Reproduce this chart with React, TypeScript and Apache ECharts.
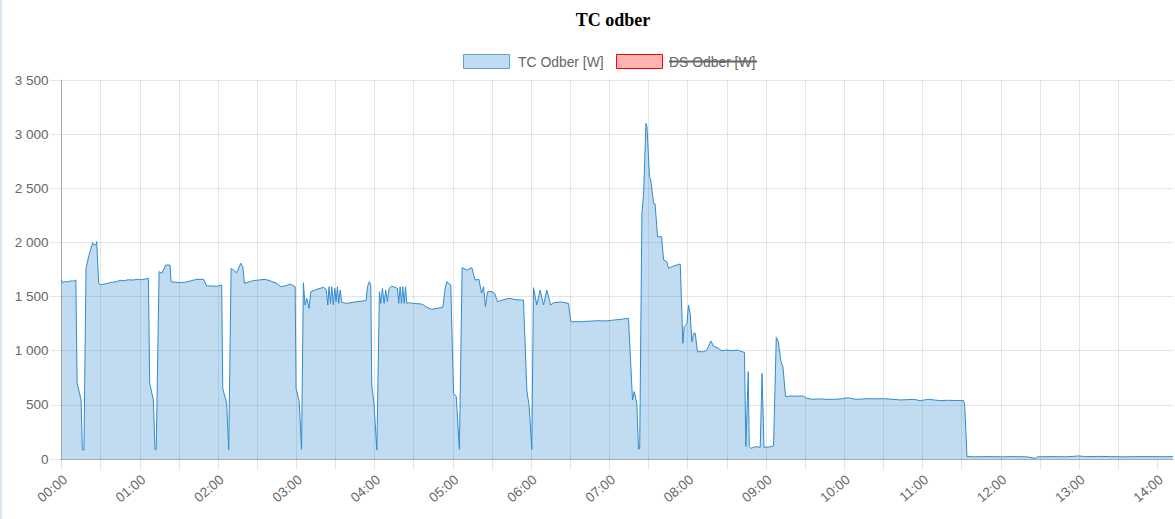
import React, { useEffect, useRef } from "react";
import * as echarts from "echarts";

// time of each reading, in minutes after 00:00
const minutes: number[] = [
  0, 1, 3, 5, 7, 9, 11, 12, 15, 16, 17.2,
  18.8, 21, 23.9, 25, 26.5, 27, 28.5,
  30, 33, 36, 39, 42, 45, 48, 51, 55, 58, 61, 64, 66.6,
  67.6, 70.4, 71.7, 72.6,
  74.8, 77, 79.8, 83.2, 84,
  90.9, 95, 99, 103.6, 108.8, 111.3, 116, 119, 122.8,
  123.6, 126.6, 128.2,
  130, 134.3, 137.4, 139, 140.2, 147, 156, 160, 165, 168, 172, 175.2, 179.1,
  179.8, 182.2, 184,
  185.4, 186.7, 188, 189.8, 191.1, 195.7, 200.8, 202.9,
  204.1, 205.1, 206.2, 207.2, 208.4, 209.5, 210.5, 211.5, 212.5, 213.6,
  214.8, 218.7, 226.4, 233.5, 234.5, 236, 237.1,
  237.8, 239.5, 241.7,
  243.7, 244.7, 246, 247.3, 248.5, 249.8, 251.1, 253.1, 255.7, 257.5,
  258.5, 259.6, 260.6, 261.6, 262.7, 263.7, 264.7,
  266, 269.8, 276.2, 280.1, 283.9, 287.7, 292.3, 294.1, 295.3, 298.4,
  300.5, 302.6, 305,
  307.1, 311, 314.5, 317, 320, 322, 323.5, 325, 326.5, 330, 332, 334.2, 338, 343, 349, 354.1,
  356.7, 358.5, 360.5,
  361.8, 364.3, 366.9, 369.5, 372, 375, 377.1, 383, 388.6, 390.4, 398, 404, 410.4, 418, 423, 429, 434.6,
  437.7, 439, 441, 442.3, 443.2,
  444.9, 446.2, 448, 448.8, 450.7, 451.7, 453.8, 455, 456.9, 460, 461.5, 464, 465.3, 469, 474.3,
  476.3, 477.3, 479.4, 480.6, 481.9, 483.2, 484.5, 485.8, 487.5, 492.1, 494.6, 497.8, 499.8, 503.6,
  506, 510, 514, 518, 521.6, 523.5,
  524.6, 526.4, 527.2, 528.5, 531.8, 535.6, 537, 538.5, 542, 545.8,
  547.9, 549.4, 551.5, 553, 555, 558.6, 563, 568.8, 570, 575.2, 581, 586, 591.8, 597, 603.3,
  606, 609.8, 617.4, 623, 630.2, 636, 643, 648, 653.2, 658.3, 664.7, 669, 673.6, 680, 686, 691.5,
  692.3, 694.1,
  700, 710, 720, 730, 740, 746.5, 748, 760, 770, 779.7, 785, 795, 805, 815, 825, 835, 845, 852,
];

// TC Odber [W]
const watts: number[] = [
  1653, 1628, 1640, 1635, 1645, 1642, 1653, 699, 545, 83, 83,
  1760, 1880, 1998, 1976, 1980, 2007, 1622,
  1610, 1615, 1625, 1632, 1637, 1650, 1645, 1655, 1653, 1660, 1655, 1662, 1668,
  699, 545, 83, 89,
  1730, 1714, 1791, 1791, 1637,
  1628, 1633, 1645, 1659, 1659, 1598, 1598, 1595, 1607,
  653, 514, 83,
  1760, 1720, 1807, 1776, 1622, 1647, 1659, 1645, 1622, 1591, 1600, 1616, 1591,
  653, 529, 89,
  1628, 1422, 1484, 1391, 1545, 1567, 1585, 1567,
  1422, 1591, 1437, 1591, 1422, 1576, 1453, 1591, 1437, 1560,
  1447, 1437, 1453, 1462, 1591, 1637, 1607,
  683, 514, 83,
  1545, 1437, 1576, 1437, 1561, 1453, 1576, 1597, 1585, 1576,
  1437, 1591, 1437, 1591, 1437, 1591, 1437,
  1443, 1437, 1431, 1400, 1382, 1391, 1400, 1576, 1637, 1607,
  606, 576, 89,
  1767, 1745, 1767, 1653, 1659, 1530, 1591, 1407, 1545, 1545, 1530, 1453, 1468, 1484, 1470, 1468,
  637, 483, 89,
  1582, 1422, 1560, 1422, 1560, 1422, 1443, 1450, 1437, 1268, 1268, 1272, 1277, 1275, 1283, 1290, 1299,
  545, 622, 514, 89, 98,
  2268, 2453, 3099, 3069, 2607, 2576, 2361, 2355, 2053, 2053, 1838, 1822, 1761, 1782, 1801,
  1068, 1222, 1253, 1422, 1345, 1083, 1160, 1160, 991, 991, 1006, 1090, 1043, 1022,
  1000, 1006, 1000, 1006, 991, 985,
  114, 806, 114, 98, 114, 108, 791, 108, 110, 120,
  1123, 1083, 899, 853, 576, 582, 580, 582, 566, 551, 555, 551, 551, 555, 566,
  557, 551, 557, 555, 557, 552, 545, 548, 551, 539, 551, 545, 539, 542, 540, 539,
  499, 22,
  20, 22, 20, 22, 20, 5, 20, 22, 20, 28, 22, 24, 22, 20, 22, 22, 21, 22,
];

const xTickMinutes: number[] = Array.from({ length: 29 }, (_, i) => i * 30);
const xLabelMinutes: number[] = Array.from({ length: 15 }, (_, i) => i * 60);

const TITLE = "TC odber";
const LEGEND_TC = "TC Odber [W]";
const LEGEND_DS = "DS Odber [W]";

const LINE = "#318bcc";
const SANS = '"Liberation Sans", Arial, Helvetica, sans-serif';

function hhmm(v: number): string {
  const h = Math.floor(v / 60);
  const m = Math.round(v % 60);
  return String(h).padStart(2, "0") + ":" + String(m).padStart(2, "0");
}

function thousands(v: number): string {
  return String(v).replace(/\B(?=(\d{3})+(?!\d))/g, " ");
}

export default function App() {
  const ref = useRef<HTMLDivElement>(null);

  useEffect(() => {
    if (!ref.current) return;
    const chart = echarts.init(ref.current, undefined, { renderer: "svg" });
    const data = minutes.map((m, i) => [m, watts[i]]);
    chart.setOption({
      animation: false,
      backgroundColor: "#ffffff",
      grid: { left: 61.5, right: 2, top: 80, bottom: 60, containLabel: false },
      graphic: [
        { type: "rect", shape: { x: 0, y: 0, width: 2, height: 519 }, style: { fill: "#dbe7f3" } },
        {
          type: "text",
          x: 613,
          y: 20,
          style: {
            text: TITLE,
            font: 'bold 18px "Liberation Serif", "Times New Roman", serif',
            fill: "#000",
            align: "center",
            verticalAlign: "middle",
          },
        },
        {
          type: "rect",
          shape: { x: 463.5, y: 54.5, width: 46, height: 14 },
          style: { fill: "rgba(49,139,204,0.3)", stroke: "#5aa2da", lineWidth: 1 },
        },
        {
          type: "text",
          x: 518,
          y: 62,
          style: { text: LEGEND_TC, font: "13.9px " + SANS, fill: "#666", align: "left", verticalAlign: "middle" },
        },
        {
          type: "rect",
          shape: { x: 616.5, y: 54.5, width: 46, height: 14 },
          style: { fill: "rgba(255,0,0,0.3)", stroke: "#ff0000", lineWidth: 1 },
        },
        {
          type: "text",
          x: 669,
          y: 62,
          style: { text: LEGEND_DS, font: "13.9px " + SANS, fill: "#666", align: "left", verticalAlign: "middle" },
        },
        {
          type: "line",
          shape: { x1: 669, y1: 61.5, x2: 757, y2: 61.5 },
          style: { stroke: "#666", lineWidth: 2 },
        },
      ],
      xAxis: {
        type: "value",
        min: 0,
        max: 852,
        interval: 30,
        axisLine: { show: true, onZero: false, lineStyle: { color: "rgba(0,0,0,0.25)", width: 1 } },
        axisTick: {
          show: true,
          length: 11,
          customValues: xTickMinutes,
          lineStyle: { color: "rgba(0,0,0,0.1)" },
        },
        axisLabel: {
          customValues: xLabelMinutes,
          rotate: 40,
          margin: 22,
          padding: [0, -5, 0, 0],
          color: "#666",
          fontSize: 13.5,
          fontFamily: SANS,
          formatter: (v: number) => hhmm(v),
        },
        splitLine: { show: true, showMaxLine: false, lineStyle: { color: "rgba(0,0,0,0.1)", width: 1 } },
      },
      yAxis: {
        type: "value",
        min: 0,
        max: 3500,
        interval: 500,
        axisLine: { show: true, lineStyle: { color: "rgba(0,0,0,0.25)", width: 1 } },
        axisTick: { show: true, length: 11, lineStyle: { color: "rgba(0,0,0,0.1)" } },
        axisLabel: {
          margin: 13,
          color: "#666",
          fontSize: 13.5,
          fontFamily: SANS,
          formatter: (v: number) => thousands(v),
        },
        splitLine: { show: true, lineStyle: { color: "rgba(0,0,0,0.1)", width: 1 } },
      },
      series: [
        {
          name: LEGEND_TC,
          type: "line",
          data,
          showSymbol: false,
          symbol: "none",
          lineStyle: { color: LINE, width: 1 },
          itemStyle: { color: LINE },
          areaStyle: { color: "rgba(49,139,204,0.3)", opacity: 1, origin: "start" },
          z: 3,
        },
      ],
    });
    return () => chart.dispose();
  }, []);

  return (
    <div
      ref={ref}
      style={{ position: "fixed", left: 0, top: 0, width: 1175, height: 519 }}
    />
  );
}
